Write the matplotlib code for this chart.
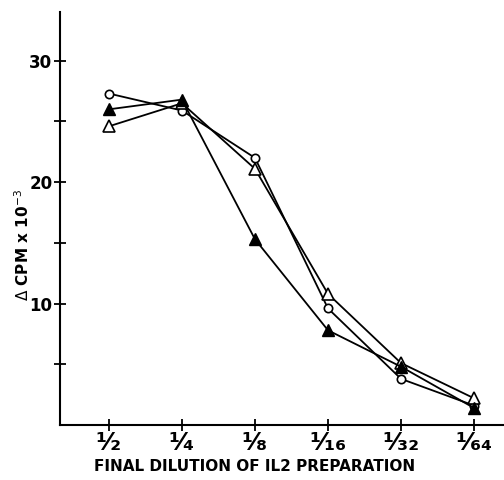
import numpy as np
import matplotlib
matplotlib.use('Agg')
import matplotlib.pyplot as plt

# dilution steps and the three response curves (delta CPM x 10^-3)
dilutions = ['¹⁄₂', '¹⁄₄', '¹⁄₈', '¹⁄₁₆', '¹⁄₃₂', '¹⁄₆₄']
open_circle = [27.3, 25.9, 22.0, 9.6, 3.8, 1.6]
open_triangle = [24.6, 26.5, 21.1, 10.8, 5.1, 2.2]
filled_triangle = [26.0, 26.8, 15.3, 7.8, 4.8, 1.4]

plt.rcParams['font.family'] = ['DejaVu Sans Condensed', 'DejaVu Sans']
plt.rcParams['mathtext.fontset'] = 'dejavusans'

fig = plt.figure(figsize=(5.04, 4.8), dpi=100)
ax = fig.add_axes([0.119, 0.1146, 0.881, 0.86])

x = np.arange(1, len(dilutions) + 1)
ax.plot(x, open_circle, color='black', lw=1.3, marker='o', ms=6,
        mfc='white', mec='black', mew=1.2)
ax.plot(x, open_triangle, color='black', lw=1.3, marker='^', ms=8,
        mfc='white', mec='black', mew=1.2)
ax.plot(x, filled_triangle, color='black', lw=1.3, marker='^', ms=8,
        mfc='black', mec='black')

ax.set_xlim(0.33, 6.41)
ax.set_ylim(0, 34)
ax.spines['top'].set_visible(False)
ax.spines['right'].set_visible(False)
ax.spines['left'].set_linewidth(1.5)
ax.spines['bottom'].set_linewidth(1.5)

ax.set_xticks(x)
ax.set_xticklabels(dilutions, fontsize=18, fontweight='bold')
ax.set_yticks([10, 20, 30])
ax.set_yticks([5, 15, 25], minor=True)
ax.set_yticklabels(['10', '20', '30'], fontsize=12, fontweight='bold')
ax.tick_params(axis='both', which='both', direction='inout', length=9,
               width=1.3, pad=1)
ax.tick_params(axis='x', pad=0)

ax.set_xlabel('FINAL DILUTION OF IL2 PREPARATION', fontsize=11,
              fontweight='bold')
ax.xaxis.set_label_coords(0.439, -0.082)
ax.set_ylabel(r'$\Delta$ CPM x 10$^{-3}$', fontsize=11, fontweight='bold')
ax.yaxis.set_label_coords(-0.063, 0.436)

fig.savefig('out.png', dpi=100)
